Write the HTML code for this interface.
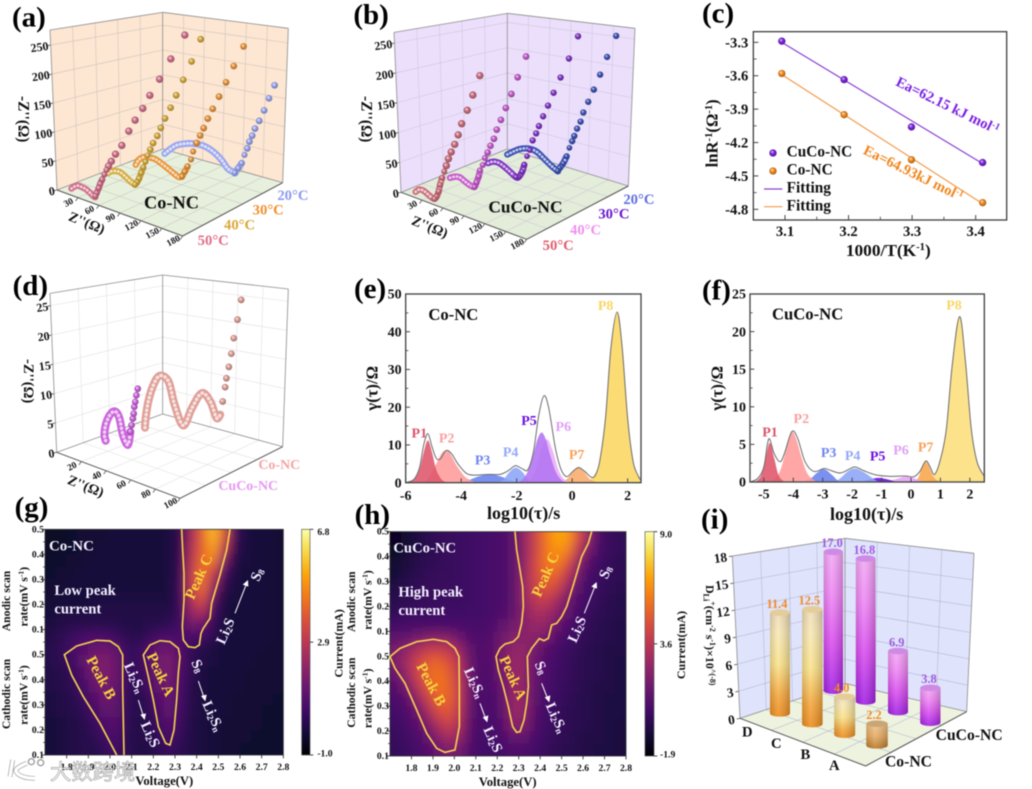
<!DOCTYPE html>
<html lang="en">
<head>
<meta charset="utf-8">
<title>Electrochemical analysis of Co-NC and CuCo-NC</title>
<style>
html,body{margin:0;padding:0;background:#fff;width:1032px;height:789px;overflow:hidden}
svg{display:block;filter:blur(.5px)}
text{font-family:"Liberation Serif","Noto Serif CJK SC",serif;font-weight:bold;fill:#111}
.wm{font-family:"Liberation Sans","Noto Sans CJK SC",sans-serif;fill:rgba(255,255,255,.82);stroke:rgba(120,120,120,.7);stroke-width:2}
.plab{font-size:87px;fill:#000}
.ann{fill:#f4f0ff}
.pk{fill:#f7d33c}
</style>
</head>
<body>
<svg id="figure" xmlns="http://www.w3.org/2000/svg" width="1032" height="789" viewBox="0 0 1032 789">
<defs id="defs"></defs>
<rect width="1032" height="789" fill="#fff"/>

<!-- (a) -->
<g id="panel-a" transform="translate(0,0) scale(.33333)">
  <g id="a-plot"></g>
  <text class="plab" x="36" y="80">(a)</text>
  <text transform="translate(56,288) rotate(90)" font-size="46">-Z''(Ω)</text>
  <text transform="translate(203,660) rotate(22)" font-size="42">Z''(Ω)</text>
  <text x="432" y="625" font-size="55">Co-NC</text>
  <text x="832" y="600" font-size="44" style="fill:#8d9af0">20°C</text>
  <text x="758" y="644" font-size="44" style="fill:#f0902e">30°C</text>
  <text x="672" y="688" font-size="44" style="fill:#dca63a">40°C</text>
  <text x="593" y="735" font-size="44" style="fill:#e0708a">50°C</text>
</g>

<!-- (b) -->
<g id="panel-b" transform="translate(345,0) scale(.33333)">
  <g id="b-plot"></g>
  <text class="plab" x="25" y="72">(b)</text>
  <text transform="translate(50,288) rotate(90)" font-size="46">-Z''(Ω)</text>
  <text transform="translate(197,672) rotate(22)" font-size="42">Z''(Ω)</text>
  <text x="430" y="637" font-size="52">CuCo-NC</text>
  <text x="835" y="612" font-size="44" style="fill:#6070e0">20°C</text>
  <text x="760" y="655" font-size="44" style="fill:#6a18d0">30°C</text>
  <text x="675" y="704" font-size="44" style="fill:#f090f0">40°C</text>
  <text x="593" y="750" font-size="44" style="fill:#e06070">50°C</text>
</g>

<!-- (c) -->
<g id="panel-c" transform="translate(690,0) scale(.33333)">
  <g id="c-plot"></g>
  <text class="plab" x="36" y="68">(c)</text>
  <text x="595" y="768" text-anchor="middle" font-size="52">1000/T(K<tspan dy="-18" font-size="32">-1</tspan><tspan dy="18">)</tspan></text>
  <text transform="translate(82,400) rotate(-90)" text-anchor="middle" font-size="50">lnR<tspan dy="-16" font-size="32">-1</tspan><tspan dy="16">(Ω</tspan><tspan dy="-16" font-size="32">-1</tspan><tspan dy="16">)</tspan></text>
  <text x="290" y="470" font-size="46">CuCo-NC</text>
  <text x="290" y="524" font-size="46">Co-NC</text>
  <text x="290" y="578" font-size="46">Fitting</text>
  <text x="290" y="632" font-size="46">Fitting</text>
  <text transform="translate(615,255) rotate(26)" font-size="44" style="fill:#7a22e0">Ea=62.15 kJ mol<tspan dy="-14" font-size="28">-1</tspan></text>
  <text transform="translate(517,460) rotate(26)" font-size="44" style="fill:#f0861c">Ea=64.93kJ mol<tspan dy="-14" font-size="28">-1</tspan></text>
</g>

<!-- (d) -->
<g id="panel-d" transform="translate(0,265) scale(.33333)">
  <g id="d-plot"></g>
  <text class="plab" x="38" y="90">(d)</text>
  <text transform="translate(72,282) rotate(90)" font-size="44">-Z''(Ω)</text>
  <text transform="translate(200,655) rotate(22)" font-size="42">Z''(Ω)</text>
  <text x="775" y="612" font-size="42" style="fill:#f5a5a5">Co-NC</text>
  <text x="655" y="675" font-size="42" style="fill:#e49bf0">CuCo-NC</text>
</g>

<!-- (e) -->
<g id="panel-e" transform="translate(345,270) scale(.33333)">
  <g id="e-plot"></g>
  <text class="plab" x="27" y="84">(e)</text>
  <text transform="translate(98,355) rotate(-90)" text-anchor="middle" font-size="50">γ(τ)/Ω</text>
  <text x="536" y="747" text-anchor="middle" font-size="54">log10(τ)/s</text>
  <text x="250" y="150" font-size="50">Co-NC</text>
</g>

<!-- (f) -->
<g id="panel-f" transform="translate(690,270) scale(.33333)">
  <g id="f-plot"></g>
  <text class="plab" x="36" y="88">(f)</text>
  <text transform="translate(98,355) rotate(-90)" text-anchor="middle" font-size="50">γ(τ)/Ω</text>
  <text x="530" y="750" text-anchor="middle" font-size="54">log10(τ)/s</text>
  <text x="246" y="148" font-size="50">CuCo-NC</text>
</g>

<!-- (g) -->
<g id="panel-g" transform="translate(0,500) scale(.33333)">
  <g id="g-plot"></g>
  <text class="plab" x="44" y="50">(g)</text>
  <g fill="none" stroke="#f2cf52" stroke-width="5">
    <polyline points="545,88 548,150 552,220 552,300 547,380 550,420 565,440 585,443 598,435 603,400 610,385 630,355 635,310 660,225 680,150 690,88"/>
    <polyline points="372,765 368,560 368,465 355,440 330,423 290,421 230,438 193,464 215,525 250,590 300,670 350,765"/>
    <polygon points="430,465 450,435 480,422 510,425 535,445 540,470 535,520 530,600 522,690 510,735 497,730 475,680 460,600 445,530"/>
  </g>
  <text x="147" y="152" font-size="45" style="fill:#f4f0ff">Co-NC</text>
  <text x="163" y="285" font-size="44" style="fill:#f4f0ff">Low peak</text>
  <text x="163" y="340" font-size="44" style="fill:#f4f0ff">current</text>
  <text transform="translate(600,232) rotate(-66)" text-anchor="middle" dominant-baseline="middle" font-size="46" style="fill:#f7d33c">Peak C</text>
  <text transform="translate(300,535) rotate(62)" text-anchor="middle" dominant-baseline="middle" font-size="46" style="fill:#f7d33c">Peak B</text>
  <text transform="translate(478,525) rotate(65)" text-anchor="middle" dominant-baseline="middle" font-size="46" style="fill:#f7d33c">Peak A</text>
  <text transform="translate(680,395) rotate(-66)" text-anchor="middle" dominant-baseline="middle" font-size="44" style="fill:#f4f0ff">Li<tspan dy="8" font-size="28">2</tspan><tspan dy="-8">S</tspan></text>
  <line x1="705" y1="340" x2="740" y2="250" stroke="#fff" stroke-width="3"/>
  <polygon points="744,240 728,254 745,260" fill="#fff"/>
  <text transform="translate(775,225) rotate(-66)" text-anchor="middle" dominant-baseline="middle" font-size="44" style="fill:#f4f0ff">S<tspan dy="8" font-size="28">8</tspan></text>
  <text transform="translate(590,500) rotate(66)" text-anchor="middle" dominant-baseline="middle" font-size="44" style="fill:#f4f0ff">S<tspan dy="8" font-size="28">8</tspan></text>
  <line x1="595" y1="543" x2="612" y2="592" stroke="#fff" stroke-width="3"/>
  <polygon points="616,604 603,588 620,584" fill="#fff"/>
  <text transform="translate(635,650) rotate(66)" text-anchor="middle" dominant-baseline="middle" font-size="44" style="fill:#f4f0ff">Li<tspan dy="8" font-size="28">2</tspan><tspan dy="-8">S</tspan><tspan dy="8" font-size="28">n</tspan></text>
  <text transform="translate(400,535) rotate(66)" text-anchor="middle" dominant-baseline="middle" font-size="44" style="fill:#f4f0ff">Li<tspan dy="8" font-size="28">2</tspan><tspan dy="-8">S</tspan><tspan dy="8" font-size="28">n</tspan></text>
  <line x1="415" y1="600" x2="430" y2="648" stroke="#fff" stroke-width="3"/>
  <polygon points="434,660 421,644 438,640" fill="#fff"/>
  <text transform="translate(447,705) rotate(66)" text-anchor="middle" dominant-baseline="middle" font-size="44" style="fill:#f4f0ff">Li<tspan dy="8" font-size="28">2</tspan><tspan dy="-8">S</tspan></text>
  <text x="493" y="855" text-anchor="middle" font-size="38">Voltage(V)</text>
  <text transform="translate(30,303) rotate(-90)" text-anchor="middle" font-size="35">Anodic scan</text>
  <text transform="translate(82,290) rotate(-90)" text-anchor="middle" font-size="35">rate(mV s<tspan dy="-12" font-size="23">-1</tspan><tspan dy="12">)</tspan></text>
  <text transform="translate(30,582) rotate(-90)" text-anchor="middle" font-size="35">Cathodic scan</text>
  <text transform="translate(82,585) rotate(-90)" text-anchor="middle" font-size="35">rate(mV s<tspan dy="-12" font-size="23">-1</tspan><tspan dy="12">)</tspan></text>
  <text transform="translate(1028,430) rotate(-90)" text-anchor="middle" font-size="36">Current(mA)</text>
  <text x="952" y="105" font-size="29">6.8</text>
  <text x="952" y="437" font-size="29">2.9</text>
  <text x="952" y="770" font-size="29">-1.0</text>
</g>

<!-- (h) -->
<g id="panel-h" transform="translate(340,500) scale(.33333)">
  <g id="h-plot"></g>
  <text class="plab" x="44" y="72">(h)</text>
  <g fill="none" stroke="#f2cf52" stroke-width="5">
    <polyline points="525,95 530,150 540,210 548,260 550,320 545,370 535,410 520,425 495,432 480,445 468,470 475,510 490,560 505,620 518,680 530,697 540,695 552,660 560,610 565,560 562,470 575,445 598,416 612,422 625,415 635,375 650,370 665,350 680,320 700,255 725,170 745,130 755,95"/>
    <polygon points="150,470 180,445 230,425 280,418 320,425 345,445 357,470 358,560 358,680 345,750 315,757 290,745 260,700 230,630 195,550 165,505"/>
  </g>
  <text x="160" y="158" font-size="44" style="fill:#f4f0ff">CuCo-NC</text>
  <text x="175" y="290" font-size="44" style="fill:#f4f0ff">High peak</text>
  <text x="175" y="345" font-size="44" style="fill:#f4f0ff">current</text>
  <text transform="translate(620,225) rotate(-66)" text-anchor="middle" dominant-baseline="middle" font-size="46" style="fill:#f7d33c">Peak C</text>
  <text transform="translate(270,555) rotate(62)" text-anchor="middle" dominant-baseline="middle" font-size="46" style="fill:#f7d33c">Peak B</text>
  <text transform="translate(515,535) rotate(66)" text-anchor="middle" dominant-baseline="middle" font-size="46" style="fill:#f7d33c">Peak A</text>
  <text transform="translate(715,390) rotate(-66)" text-anchor="middle" dominant-baseline="middle" font-size="44" style="fill:#f4f0ff">Li<tspan dy="8" font-size="28">2</tspan><tspan dy="-8">S</tspan></text>
  <line x1="733" y1="340" x2="766" y2="256" stroke="#fff" stroke-width="3"/>
  <polygon points="770,246 754,260 771,266" fill="#fff"/>
  <text transform="translate(800,218) rotate(-66)" text-anchor="middle" dominant-baseline="middle" font-size="44" style="fill:#f4f0ff">S<tspan dy="8" font-size="28">8</tspan></text>
  <text transform="translate(600,505) rotate(66)" text-anchor="middle" dominant-baseline="middle" font-size="44" style="fill:#f4f0ff">S<tspan dy="8" font-size="28">8</tspan></text>
  <line x1="605" y1="550" x2="623" y2="596" stroke="#fff" stroke-width="3"/>
  <polygon points="628,607 614,592 631,586" fill="#fff"/>
  <text transform="translate(645,655) rotate(66)" text-anchor="middle" dominant-baseline="middle" font-size="44" style="fill:#f4f0ff">Li<tspan dy="8" font-size="28">2</tspan><tspan dy="-8">S</tspan><tspan dy="8" font-size="28">n</tspan></text>
  <text transform="translate(400,550) rotate(66)" text-anchor="middle" dominant-baseline="middle" font-size="44" style="fill:#f4f0ff">Li<tspan dy="8" font-size="28">2</tspan><tspan dy="-8">S</tspan><tspan dy="8" font-size="28">n</tspan></text>
  <line x1="420" y1="610" x2="437" y2="656" stroke="#fff" stroke-width="3"/>
  <polygon points="442,667 428,652 445,646" fill="#fff"/>
  <text transform="translate(455,720) rotate(66)" text-anchor="middle" dominant-baseline="middle" font-size="44" style="fill:#f4f0ff">Li<tspan dy="8" font-size="28">2</tspan><tspan dy="-8">S</tspan></text>
  <text x="503" y="858" text-anchor="middle" font-size="38">Voltage(V)</text>
  <text transform="translate(45,305) rotate(-90)" text-anchor="middle" font-size="35">Anodic scan</text>
  <text transform="translate(95,300) rotate(-90)" text-anchor="middle" font-size="35">rate(mV s<tspan dy="-12" font-size="23">-1</tspan><tspan dy="12">)</tspan></text>
  <text transform="translate(45,578) rotate(-90)" text-anchor="middle" font-size="35">Cathodic scan</text>
  <text transform="translate(95,595) rotate(-90)" text-anchor="middle" font-size="35">rate(mV s<tspan dy="-12" font-size="23">-1</tspan><tspan dy="12">)</tspan></text>
  <text transform="translate(1035,435) rotate(-90)" text-anchor="middle" font-size="36">Current(mA)</text>
  <text x="960" y="112" font-size="29">9.0</text>
  <text x="960" y="442" font-size="29">3.6</text>
  <text x="960" y="773" font-size="29">-1.9</text>
</g>

<!-- (i) -->
<g id="panel-i" transform="translate(690,510) scale(.33333)">
  <g id="i-plot"></g>
  <text class="plab" x="33" y="55">(i)</text>
  <text transform="translate(48,225) rotate(90)" font-size="36">D<tspan dy="8" font-size="24">Li</tspan><tspan dy="-20" font-size="24">+</tspan><tspan dy="12">(cm</tspan><tspan dy="-12" font-size="24">-2</tspan><tspan dy="12"> s</tspan><tspan dy="-12" font-size="24">-1</tspan><tspan dy="12">)×10</tspan><tspan dy="-12" font-size="24">^(-8)</tspan></text>
  <text x="737" y="690" font-size="47">CuCo-NC</text>
  <text x="585" y="770" font-size="47">Co-NC</text>
</g>

<!-- watermark -->
<g id="watermark" transform="translate(0,500) scale(.33333)">
  <path d="M38,780 L30,830 M80,790 Q42,805 48,815 Q60,835 105,835" fill="none" stroke="#9a9a9a" stroke-width="14"/>
  <path d="M38,780 L30,830 M80,790 Q42,805 48,815 Q60,835 105,835" fill="none" stroke="#fff" stroke-width="10"/>
  <circle cx="94" cy="785" r="9" fill="#fff" stroke="#9a9a9a" stroke-width="4"/>
  <circle cx="122" cy="788" r="9" fill="#fff" stroke="#9a9a9a" stroke-width="4"/>
  <text class="wm" x="150" y="838" font-size="64" style="font-family:'Liberation Sans','Noto Sans CJK SC',sans-serif;fill:rgba(255,255,255,.82);font-weight:normal">大数跨境</text>
</g>
</svg>

<script>
/* ---------- (a) impedance data ---------- */
const aDepths = [0.07, 0.418, 0.677, 0.95];
const aTemps = ['50C', '40C', '30C', '20C'];
const a50ArcRe = [10,14,19,25,31,37,41,44];
const a50ArcIm = [2,7,11,11,10,6,3,2];
const a50TailRe = [172,152,136,122,112,101,92,82,73,67,63,60,57,54,51,49,46,44];
const a50TailIm = [338,288,246,212,185,160,137,108,89,74,64,56,47,37,28,20,10,4];
const a40ArcRe = [10,13,20,27,34,41,48];
const a40ArcIm = [4,8,12,13,9,4,1];
const a40TailRe = [142,129,117,107,99,91,85,80,74,70,66,63,60,57,54,51,48];
const a40TailIm = [293,249,212,181,156,134,115,99,84,71,59,47,36,25,14,6,1];
const a30ArcRe = [10,14,21,28,38,50,61,71,76];
const a30ArcIm = [0,10,18,21,22,17,11,6,9];
const a30TailRe = [164,150,139,129,120,113,107,102,97,92,89,84,80,76];
const a30TailIm = [272,232,199,170,145,125,106,91,76,59,44,30,19,9];
const a20ArcRe = [10,17,27,39,50,65,79,91,100,110];
const a20ArcIm = [0,10,22,30,35,38,34,25,14,11];
const a20TailRe = [167,159,152,145,139,135,131,128,124,120,115,110];
const a20TailIm = [187,161,137,116,100,86,74,61,48,32,21,11];

/* ---------- (b) impedance data ---------- */
const bDepths = [0.072, 0.395, 0.70, 0.934];
const b50ArcRe = [10,15,21,27,32,37];
const b50ArcIm = [0,6,7,4,1,0];
const b50TailRe = [102,92,84,76,71,66,61,57,54,51,48,45,43,40,37];
const b50TailIm = [235,198,169,143,122,104,89,76,63,52,40,27,15,5,0];
const b40ArcRe = [10,17,24,32,39,45];
const b40ArcIm = [0,5,7,3,0,0];
const b40TailRe = [119,107,98,90,83,77,73,68,64,60,57,53,51,48,45];
const b40TailIm = [251,211,179,152,129,110,93,79,66,55,42,31,20,9,0];
const b30ArcRe = [18,26,35,47,58];
const b30ArcIm = [6,12,13,7,0];
const b30TailRe = [147,134,122,112,104,97,91,87,82,78,74,70,67,62,58];
const b30TailIm = [275,232,195,165,140,119,100,86,72,54,42,26,13,2,0];
const b20ArcRe = [10,19,28,40,52,64,74,82];
const b20ArcIm = [0,9,17,23,23,15,8,4];
const b20TailRe = [166,153,143,134,126,119,115,110,106,103,99,95,90,85,82];
const b20TailIm = [267,226,192,163,139,118,101,87,73,63,50,34,20,10,4];

/* ---------- (c) Arrhenius data ---------- */
const cInverseT = [3.095, 3.193, 3.299, 3.411];
const cCuCo = [-3.29, -3.635, -4.06, -4.38];
const cCo = [-3.58, -3.95, -4.355, -4.74];
const cFitX = [3.095, 3.411];
const cFitCuCo = [-3.30, -4.39];
const cFitCo = [-3.59, -4.75];
const cXTicks = [3.1, 3.2, 3.3, 3.4];
const cYTicks = [-3.3, -3.6, -3.9, -4.2, -4.5, -4.8];

/* ---------- (d) impedance data ---------- */
const dDepths = [0.346, 0.717];
const dCuArcRe = [10,9,10,13.5,17.6,21,24,28,30];
const dCuArcIm = [0.5,1.4,3.2,5.2,6.1,5.3,2.6,1.2,3.6];
const dCuTailRe = [30,31,32,32.7,33.2,34,34.9,36];
const dCuTailIm = [3.6,4.8,6,6.9,8.1,9,10.2,11.4];
const dCoArcRe = [10,10.5,12.7,16.8,22,29,34,41,48,56,63,68,71];
const dCoArcIm = [0.3,1.9,5,8.1,10.1,9.7,6.1,3.1,6.6,9.8,8.9,6.5,7.3];
const dCoTailRe = [73,75,76,78,80,82,85,88];
const dCoTailIm = [9.7,12.3,13.9,16,18.4,21.2,24.6,28.2];

/* ---------- (e) DRT peaks ---------- */
const eP1X = [-5.9,-5.7,-5.5,-5.35,-5.2,-5.05,-4.9,-4.7,-4.5];
const eP1Y = [0.1,0.8,3.5,8,11.2,8,3.5,0.8,0];
const eP2X = [-5.3,-5.1,-4.9,-4.7,-4.55,-4.4,-4.2,-4,-3.8,-3.5];
const eP2Y = [0.2,2,5,7.8,8.5,7.8,5,2.8,1.2,0.1];
const eP3X = [-4.3,-3.8,-3.4,-3,-2.6,-2.2,-1.9];
const eP3Y = [0,0.5,1.6,2.2,1.7,0.6,0];
const eP4X = [-2.8,-2.5,-2.3,-2.05,-1.8,-1.6,-1.3];
const eP4Y = [0,0.6,2.5,4,2.9,1,0];
const eP5X = [-2,-1.8,-1.6,-1.4,-1.25,-1.1,-0.95,-0.8,-0.6,-0.4,-0.2];
const eP5Y = [0,0.8,3,7.5,11.5,13.3,11.5,7.5,3,0.8,0];
const eP6X = [-1.7,-1.5,-1.3,-1.1,-0.9,-0.7,-0.5,-0.3,-0.1];
const eP6Y = [0,0.8,3.5,9,11.5,8.5,3.5,1,0];
const eP7X = [-0.5,-0.2,0,0.22,0.45,0.65,0.95];
const eP7Y = [0,0.9,2.6,4,2.7,0.9,0];
const eP8X = [0.5,0.8,1,1.2,1.4,1.62,1.8,2,2.2,2.4,2.48];
const eP8Y = [0,2,6,17,36,45.2,36,17,5.5,1.5,0.8];
const eEnvX = [-6,-5.7,-5.5,-5.35,-5.2,-5.05,-4.9,-4.75,-4.55,-4.35,-4.1,-3.8,-3.5,-3,-2.6,-2.3,-2.05,-1.8,-1.6,-1.4,-1.2,-1.02,-0.85,-0.6,-0.4,-0.2,0,0.22,0.45,0.7,0.85];
const eEnvY = [0,0.9,4,10,13,9.5,6.5,6.3,8.5,7.7,4.8,2.4,2,2.2,2.2,3.2,4.5,3.7,3.4,8,18,23,20,9,3.5,1.6,2.8,4,3,1.4,2.2];
const eXTicks = [-6,-4,-2,0,2];
const eYTicks = [0,10,20,30,40,50];

/* ---------- (f) DRT peaks ---------- */
const fP1X = [-5.3,-5.1,-4.95,-4.8,-4.65,-4.5,-4.3];
const fP1Y = [0,0.8,3,5.2,3.2,0.9,0];
const fP2X = [-4.9,-4.6,-4.4,-4.2,-4.05,-3.9,-3.7,-3.5,-3.2];
const fP2Y = [0,0.5,2,5,6.7,5.7,3,1,0];
const fP3X = [-3.7,-3.4,-3.2,-2.95,-2.7,-2.45];
const fP3Y = [0,0.5,1.2,1.7,1,0];
const fP4X = [-2.6,-2.4,-2.15,-1.9,-1.6,-1.3,-1.1];
const fP4Y = [0,0.5,1.4,1.8,1.3,0.5,0];
const fP5X = [-1.7,-1.4,-1.1,-0.8,-0.5];
const fP5Y = [0,0.35,0.55,0.35,0];
const fP6X = [-0.9,-0.5,-0.2,0.1,0.4];
const fP6Y = [0,0.4,0.7,0.5,0];
const fP7X = [0.1,0.25,0.38,0.5,0.62,0.78,1];
const fP7Y = [0,0.6,2,2.7,2,0.6,0];
const fP8X = [0.5,0.8,1,1.2,1.4,1.65,1.85,2.05,2.25,2.5];
const fP8Y = [0,1,3,7,15.5,22,16,7,2.6,0.7];
const fEnvX = [-5.47,-5.2,-5,-4.88,-4.8,-4.65,-4.45,-4.3,-4.05,-3.85,-3.6,-3.3,-2.95,-2.7,-2.4,-2.1,-1.9,-1.6,-1.2,-0.7,-0.2,0.1,0.3,0.5,0.65,0.8,1];
const fEnvY = [0,0.5,2,5,5.7,3.8,2.7,3.8,6.7,5.8,2.7,1.4,1.8,1.5,1.2,1.7,2,1.5,0.95,0.75,0.8,0.7,1.4,2.8,2,1,3];
const fXTicks = [-5,-4,-3,-2,-1,0,1,2];
const fYTicks = [0,5,10,15,20,25];

/* ---------- (g)(h) heatmap data ---------- */
const heatVoltages = [1.725,1.775,1.825,1.875,1.925,1.975,2.025,2.075,2.125,2.175,2.225,2.275,2.325,2.375,2.425,2.475,2.525,2.575,2.625,2.675,2.725,2.775];
const heatRowPos = [0.875,0.825,0.775,0.725,0.675,0.625,0.575,0.525,0.475,0.425,0.375,0.325,0.275,0.225,0.175,0.125,0.075,0.025];
const heatRateTickPos = [0.9,0.8,0.7,0.6,0.5,0.4,0.3,0.2,0.1,0];
const heatRateTickLabels = ['0.5','0.4','0.3','0.2','0.1','0.5','0.4','0.3','0.2','0.1'];
const heatVoltTicks = [1.8,1.9,2.0,2.1,2.2,2.3,2.4,2.5,2.6,2.7,2.8];
const gCurrent = [
[-.5,-.5,-.4,-.3,-.3,-.3,-.2,-.2,-.2,-.2,-.2,-.1,.2,2.4,4,5.6,3.8,.4,-.1,-.2,-.2,-.3],
[-.5,-.4,-.4,-.3,-.3,-.2,-.2,-.2,-.2,-.2,-.2,-.1,.2,2.6,4,5.2,3,.2,-.1,-.2,-.2,-.3],
[-.4,-.4,-.3,-.3,-.2,-.2,-.2,-.2,-.2,-.2,-.2,-.1,.3,2.8,4.2,4.6,1.8,0,-.1,-.2,-.2,-.3],
[-.4,-.3,-.3,-.2,-.2,-.2,-.2,-.2,-.2,-.2,-.2,-.1,.3,3,4.4,3.2,.7,-.1,-.2,-.2,-.2,-.3],
[-.3,-.3,-.2,-.2,-.2,-.2,-.2,-.2,-.2,-.2,-.2,-.1,.4,3,4.4,2.2,.2,-.1,-.2,-.2,-.2,-.3],
[-.3,-.2,-.2,-.2,-.1,-.1,-.1,-.1,-.1,-.1,-.1,-.1,.4,2.7,3.8,1.2,-.1,-.1,-.2,-.2,-.2,-.3],
[-.2,-.1,-.1,-.1,0,0,0,0,0,0,0,0,.4,2.2,2.8,.6,-.1,-.2,-.2,-.2,-.2,-.3],
[-.1,0,.1,.1,.1,.1,.1,0,0,.1,.1,.2,.5,1.6,1.4,.3,-.1,-.2,-.2,-.2,-.2,-.3],
[0,.2,.4,.6,.7,.7,.4,.2,.1,.3,.6,.7,.6,.8,.6,.2,-.1,-.2,-.2,-.2,-.2,-.3],
[.1,.2,.6,1,1.3,1.4,1.1,.4,.3,.8,1.3,1.4,.9,.3,.1,-.1,-.2,-.2,-.2,-.2,-.3,-.3],
[.1,.2,.5,1.1,1.6,1.7,1.4,.4,.3,.9,1.5,1.6,.9,.2,0,-.1,-.2,-.2,-.2,-.3,-.3,-.3],
[0,.1,.3,.9,1.5,1.7,1.4,.4,.2,.7,1.5,1.6,.8,.2,-.1,-.2,-.2,-.2,-.3,-.3,-.3,-.3],
[0,.1,.2,.6,1.2,1.6,1.3,.4,.2,.5,1.3,1.5,.7,.1,-.1,-.2,-.2,-.2,-.3,-.3,-.3,-.3],
[-.1,0,.1,.4,.9,1.4,1.2,.3,.1,.3,1,1.3,.6,.1,-.1,-.2,-.2,-.3,-.3,-.3,-.3,-.4],
[-.1,0,.1,.2,.6,1.1,1.1,.3,.1,.2,.8,1.2,.5,.1,-.1,-.2,-.2,-.3,-.3,-.3,-.4,-.4],
[-.2,-.1,0,.1,.4,.8,1,.3,0,.1,.5,1,.4,0,-.1,-.2,-.3,-.3,-.3,-.3,-.4,-.4],
[-.2,-.1,0,.1,.2,.5,.8,.2,0,.1,.3,.8,.3,0,-.1,-.2,-.3,-.3,-.3,-.4,-.4,-.4],
[-.2,-.1,0,.1,.1,.3,.6,.2,0,0,.2,.4,.2,0,-.1,-.2,-.3,-.3,-.4,-.4,-.4,-.4]
];
const hCurrent = [
[-1.3,-1,-.6,-.3,-.1,0,.1,.2,.3,.4,.6,1,2.4,4,5.6,6.8,6.6,4.6,2.4,.5,0,-.1],
[-1.2,-.9,-.5,-.3,-.1,0,.1,.2,.3,.4,.6,1,2.4,4,5.6,6.4,6,3.6,1.6,.4,0,-.1],
[-1,-.7,-.4,-.2,-.1,0,.1,.2,.3,.4,.6,1,2.4,4.2,5.6,6,4.8,2.4,.9,.2,-.1,-.2],
[-.8,-.5,-.3,-.1,0,0,.1,.2,.3,.4,.6,1,2.5,4.2,5.2,5.2,3.6,1.6,.5,.1,-.1,-.2],
[-.5,-.3,-.1,0,0,.1,.1,.2,.3,.4,.6,1,2.5,4,4.8,4.2,2.6,1,.3,0,-.2,-.3],
[-.3,-.2,-.1,0,0,.1,.1,.2,.3,.4,.6,1,2.4,3.6,3.8,3,1.6,.6,.2,-.1,-.3,-.4],
[-.1,0,.1,.1,.2,.2,.2,.3,.3,.4,.7,1.1,2.2,3,3,2.2,1.2,.4,0,-.2,-.3,-.4],
[.3,.4,.5,.5,.5,.5,.5,.4,.4,.6,1.1,1.6,2.2,2.6,2.4,1.5,.6,.2,-.1,-.3,-.4,-.5],
[1,1.2,1.6,2,2.2,2,1.4,.8,.6,.8,1.6,2,2.2,2.2,1.6,.8,.3,0,-.2,-.3,-.4,-.5],
[1.8,2.4,3.2,3.8,4,3.6,2.6,1,.7,.9,1.8,2.4,2.4,1.6,.9,.4,.1,-.1,-.3,-.4,-.5,-.5],
[1.8,2.8,4,5,5.2,4.6,3.2,1.2,.7,.8,1.8,2.6,2.4,1.3,.7,.3,0,-.2,-.3,-.4,-.5,-.6],
[1.2,2.4,4,5.2,5.6,5,3.4,1.2,.6,.7,1.6,2.6,2.4,1.2,.6,.2,0,-.2,-.3,-.4,-.5,-.6],
[.8,1.6,3.2,4.8,5.6,5.2,3.6,1.2,.6,.6,1.4,2.6,2.4,1.1,.5,.2,-.1,-.2,-.4,-.5,-.5,-.6],
[.5,.9,2.2,3.8,5.2,5.2,3.6,1.1,.5,.5,1.2,2.6,2.4,1,.4,.1,-.1,-.3,-.4,-.5,-.6,-.6],
[.3,.6,1.4,2.8,4.4,4.8,3.4,1,.5,.5,1,2.6,2.4,.9,.3,0,-.2,-.3,-.4,-.5,-.6,-.6],
[.1,.4,.9,1.8,3.2,4,3,.9,.4,.4,.8,2.2,2,.7,.2,0,-.2,-.3,-.4,-.5,-.6,-.7],
[0,.2,.6,1.1,2.2,3,2.4,.8,.3,.3,.6,1.2,1.1,.5,.1,-.1,-.2,-.4,-.5,-.5,-.6,-.7],
[-.1,.1,.4,.7,1.4,1.8,1.6,.6,.3,.2,.4,.7,.6,.3,0,-.2,-.3,-.4,-.5,-.6,-.6,-.7]
];
const infernoStops = ['#000004','#160b39','#420a68','#6a176e','#932667','#bc3754','#dd513a','#f37819','#fca50a','#f6d746','#fcffa4'];

/* ---------- (i) diffusion data ---------- */
const iCategories = ['D','C','B','A'];
const iCoNC = [11.4, 12.5, 4.0, 2.2];
const iCuCoNC = [17.0, 16.8, 6.9, 3.8];
const iYTicks = [0,3,6,9,12,15,18];

/* ---------- helpers ---------- */
const NS = 'http://www.w3.org/2000/svg';
const defs = document.getElementById('defs');
function make(tag, attrs, parent, name) {
  const el = document.createElementNS(NS, tag);
  for (const k in attrs) el.setAttribute(k, attrs[k]);
  
  
  if (parent) parent.appendChild(el);
  return el;
}
function label(parent, str, x, y, size, name, extra) {
  const t = make('text', Object.assign({x: x, y: y, 'font-size': size}, extra || {}), parent, name);
  t.textContent = str;
  return t;
}
function lerp(a, b, t) { return [a[0] + (b[0] - a[0]) * t, a[1] + (b[1] - a[1]) * t]; }
function hexToRgb(h) { return [parseInt(h.slice(1,3),16), parseInt(h.slice(3,5),16), parseInt(h.slice(5,7),16)]; }
function mix(h1, h2, t) {
  const a = hexToRgb(h1), b = hexToRgb(h2);
  return 'rgb(' + a.map((v, i) => Math.round(v + (b[i] - v) * t)).join(',') + ')';
}
function smooth(pts) {
  let d = 'M' + pts[0][0].toFixed(1) + ',' + pts[0][1].toFixed(1);
  for (let i = 0; i < pts.length - 1; i++) {
    const p0 = pts[Math.max(i - 1, 0)], p1 = pts[i], p2 = pts[i + 1], p3 = pts[Math.min(i + 2, pts.length - 1)];
    const c1 = [p1[0] + (p2[0] - p0[0]) / 6, p1[1] + (p2[1] - p0[1]) / 6];
    const c2 = [p2[0] - (p3[0] - p1[0]) / 6, p2[1] - (p3[1] - p1[1]) / 6];
    d += 'C' + c1[0].toFixed(1) + ',' + c1[1].toFixed(1) + ' ' + c2[0].toFixed(1) + ',' + c2[1].toFixed(1) + ' ' + p2[0].toFixed(1) + ',' + p2[1].toFixed(1);
  }
  return d;
}
let gradCount = 0;
function sphereGrad(color) {
  const id = 'sph' + (gradCount++);
  const g = make('radialGradient', {id: id, cx: '.5', cy: '.5', r: '.55', fx: '.35', fy: '.3'}, defs, 'sphere-gradient');
  make('stop', {offset: '0', 'stop-color': mix(color, '#ffffff', .85)}, g, 'gradient-stop');
  make('stop', {offset: '.45', 'stop-color': color}, g, 'gradient-stop');
  make('stop', {offset: '1', 'stop-color': mix(color, '#000000', .35)}, g, 'gradient-stop');
  return 'url(#' + id + ')';
}
function path2(a, b, parent, stroke, width, name) {
  return make('line', {x1: a[0], y1: a[1], x2: b[0], y2: b[1], stroke: stroke, 'stroke-width': width}, parent, name);
}

/* ---------- 3-D box ---------- */
function drawBox(parent, b, o) {
  const wallL = [b.lb, b.lt, b.bt, b.bb], wallR = [b.bb, b.bt, b.rt, b.rb], floor = [b.lb, b.bb, b.rb, b.fb];
  make('polygon', {points: wallL.join(' '), fill: o.wall}, parent, o.id + '-left-wall');
  make('polygon', {points: wallR.join(' '), fill: o.wall}, parent, o.id + '-right-wall');
  make('polygon', {points: floor.join(' '), fill: o.floor}, parent, o.id + '-floor');
  const grid = o.grid || '#c9c2bb', gw = 1.6;
  o.zTicks.forEach(z => {
    const f = z / o.zTop;
    const p1 = lerp(b.lb, b.lt, f), p2 = lerp(b.bb, b.bt, f), p3 = lerp(b.rb, b.rt, f);
    if (z > 0) {
      path2(p1, p2, parent, grid, gw, o.id + '-z-grid-left');
      path2(p2, p3, parent, grid, gw, o.id + '-z-grid-right');
    }
    path2(p1, [p1[0] - 10, p1[1] + 2], parent, '#555', 2.5, o.id + '-z-tick');
    const lab = label(parent, String(z), p1[0] + o.zDx, p1[1] + o.zDy, o.zFont, o.id + '-z-tick-label', {'text-anchor': 'end'});
    lab.setAttribute('transform', 'rotate(-8 ' + (p1[0] + o.zDx) + ' ' + (p1[1] + o.zDy) + ')');
  });
  o.xFracs.forEach(f => {
    const a = lerp(b.bb, b.rb, f), c = lerp(b.bt, b.rt, f), d = lerp(b.lb, b.fb, f);
    path2(a, c, parent, grid, gw, o.id + '-x-grid-wall');
    path2(a, d, parent, grid, gw, o.id + '-x-grid-floor');
  });
  o.dFracs.forEach(f => {
    const a = lerp(b.lb, b.bb, f), c = lerp(b.lt, b.bt, f), d = lerp(b.fb, b.rb, f);
    path2(a, c, parent, grid, gw, o.id + '-depth-grid-wall');
    path2(a, d, parent, grid, gw, o.id + '-depth-grid-floor');
  });
  [[b.lb,b.lt],[b.lt,b.bt],[b.bt,b.rt],[b.rt,b.rb],[b.bt,b.bb],[b.bb,b.lb],[b.bb,b.rb]].forEach(e => {
    path2(e[0], e[1], parent, '#8c8c8c', 2.4, o.id + '-box-edge');
  });
  path2(b.lb, b.fb, parent, '#555', 3, o.id + '-x-axis');
  path2(b.fb, b.rb, parent, '#555', 3, o.id + '-depth-axis');
  (o.xTicks || []).forEach((v, i) => {
    const p = lerp(b.lb, b.fb, v / o.xMax);
    path2(p, [p[0] - 7, p[1] + 10], parent, '#555', 2.5, o.id + '-x-tick');
    const x = p[0] - 24, y = p[1] + 22;
    const lab = label(parent, String(v), x, y, o.xFont, o.id + '-x-tick-label', {'text-anchor': 'middle'});
    lab.setAttribute('transform', 'rotate(-28 ' + x + ' ' + y + ')');
  });
}
function projector(o, ex, ed, ez) {
  return (re, im, d) => [o[0] + re * ex[0] + d * ed[0], o[1] + re * ex[1] + d * ed[1] - im * ez];
}
function drawSeries(parent, proj, depth, arcRe, arcIm, tailRe, tailIm, color, name, rBig, rSmall, thr, tubeW) {
  const arc = arcRe.map((r, i) => proj(r, arcIm[i], depth));
  for (let i = tailRe.length - 1; i >= 0; i--) {
    if (tailIm[i] < thr * .7 && tailIm[i] > 0) arc.push(proj(tailRe[i], tailIm[i], depth));
  }
  const fill = sphereGrad(color);
  const tube = make('path', {d: smooth(arc), fill: 'none', stroke: color, 'stroke-width': tubeW, 'stroke-linecap': 'round'}, parent, name + '-arc');
  tube.setAttribute('data-series', name);
  make('path', {d: smooth(arc), fill: 'none', stroke: mix(color, '#ffffff', .7), 'stroke-width': tubeW * .42, 'stroke-linecap': 'round', 'stroke-dasharray': '1 ' + (tubeW * .5)}, parent, name + '-arc-highlight');
  tailRe.forEach((r, i) => {
    const p = proj(r, tailIm[i], depth);
    make('circle', {cx: p[0], cy: p[1], r: tailIm[i] > thr ? rBig : rSmall, fill: fill}, parent, name + '-point');
  });
}

/* ---------- (a) ---------- */
(function () {
  const g = document.getElementById('a-plot');
  const box = {lb:[171,570], lt:[150,90], bb:[488,447], bt:[488,37], rb:[848,548], rt:[865,85], fb:[548,708]};
  drawBox(g, box, {id:'a', wall:'#fde6d2', floor:'#e7f0dd', zTicks:[0,50,100,150,200,250], zTop:276, zDx:-5, zDy:14, zFont:36,
    xTicks:[30,60,90,120,150,180], xMax:180, xFont:28, xFracs:[1/6,2/6,3/6,4/6,5/6], dFracs:[.2,.4,.6,.8]});
  const proj = projector(box.lb, [2.1,.767], [318,-123], 1.74);
  drawSeries(g, proj, aDepths[3], a20ArcRe, a20ArcIm, a20TailRe, a20TailIm, '#9aa6ee', 'a-series-20c', 10, 9, 60, 20);
  drawSeries(g, proj, aDepths[2], a30ArcRe, a30ArcIm, a30TailRe, a30TailIm, '#e8963c', 'a-series-30c', 10, 9, 60, 19);
  drawSeries(g, proj, aDepths[1], a40ArcRe, a40ArcIm, a40TailRe, a40TailIm, '#d3ab3e', 'a-series-40c', 10, 9, 60, 19);
  drawSeries(g, proj, aDepths[0], a50ArcRe, a50ArcIm, a50TailRe, a50TailIm, '#d0708a', 'a-series-50c', 11, 9, 60, 19);
})();

/* ---------- (b) ---------- */
(function () {
  const g = document.getElementById('b-plot');
  const box = {lb:[168,577], lt:[147,97], bb:[487,447], bt:[487,40], rb:[850,558], rt:[870,85], fb:[545,718]};
  drawBox(g, box, {id:'b', wall:'#ebdffb', floor:'#e3edd9', grid:'#cfc6dc', zTicks:[0,50,100,150,200,250], zTop:268, zDx:-5, zDy:14, zFont:36,
    xTicks:[30,60,90,120,150,180], xMax:180, xFont:28, xFracs:[1/6,2/6,3/6,4/6,5/6], dFracs:[.2,.4,.6,.8]});
  const proj = projector(box.lb, [2.094,.783], [319,-130], 1.79);
  drawSeries(g, proj, bDepths[3], b20ArcRe, b20ArcIm, b20TailRe, b20TailIm, '#3d52b4', 'b-series-20c', 9.5, 8.5, 60, 19);
  drawSeries(g, proj, bDepths[2], b30ArcRe, b30ArcIm, b30TailRe, b30TailIm, '#7f35c4', 'b-series-30c', 9.5, 8.5, 60, 19);
  drawSeries(g, proj, bDepths[1], b40ArcRe, b40ArcIm, b40TailRe, b40TailIm, '#c55bcb', 'b-series-40c', 10, 9, 60, 19);
  drawSeries(g, proj, bDepths[0], b50ArcRe, b50ArcIm, b50TailRe, b50TailIm, '#cb6e7c', 'b-series-50c', 11, 9, 60, 19);
})();

/* ---------- (c) ---------- */
(function () {
  const g = document.getElementById('c-plot');
  const x = v => 285 + (v - 3.1) * 1906.7;
  const y = v => 127 + (-3.3 - v) * 334;
  make('rect', {x:190, y:95, width:760, height:565, fill:'#fff', stroke:'#444', 'stroke-width':4}, g, 'c-plot-frame');
  cXTicks.forEach((v, i) => {
    path2([x(v),660],[x(v),645], g, '#444', 3, 'c-x-tick');
    label(g, v.toFixed(1), x(v), 708, 44, 'c-x-tick-label', {'text-anchor':'middle'});
    if (i < cXTicks.length - 1) path2([x(v+.05),660],[x(v+.05),650], g, '#444', 2.5, 'c-x-minor-tick');
  });
  cYTicks.forEach((v, i) => {
    path2([190,y(v)],[205,y(v)], g, '#444', 3, 'c-y-tick');
    label(g, v.toFixed(1), 175, y(v)+15, 44, 'c-y-tick-label', {'text-anchor':'end'});
    if (i < cYTicks.length - 1) path2([190,y(v-.15)],[200,y(v-.15)], g, '#444', 2.5, 'c-y-minor-tick');
  });
  make('line', {x1:x(cFitX[0]), y1:y(cFitCuCo[0]), x2:x(cFitX[1]), y2:y(cFitCuCo[1]), stroke:'#8a3fd6', 'stroke-width':3.5}, g, 'c-fit-cuco');
  make('line', {x1:x(cFitX[0]), y1:y(cFitCo[0]), x2:x(cFitX[1]), y2:y(cFitCo[1]), stroke:'#f29a4a', 'stroke-width':3.5}, g, 'c-fit-co');
  const purple = sphereGrad('#7b22e0'), orange = sphereGrad('#f28a1e');
  cInverseT.forEach((v, i) => {
    make('circle', {cx:x(v), cy:y(cCuCo[i]), r:11, fill:purple}, g, 'c-point-cuco');
    make('circle', {cx:x(v), cy:y(cCo[i]), r:11, fill:orange}, g, 'c-point-co');
  });
  make('circle', {cx:249, cy:459, r:11, fill:purple}, g, 'c-legend-marker-cuco');
  make('circle', {cx:249, cy:513, r:11, fill:orange}, g, 'c-legend-marker-co');
  make('line', {x1:222, y1:567, x2:277, y2:567, stroke:'#8a3fd6', 'stroke-width':3.5}, g, 'c-legend-line-cuco');
  make('line', {x1:222, y1:620, x2:277, y2:620, stroke:'#f29a4a', 'stroke-width':3.5}, g, 'c-legend-line-co');
})();

/* ---------- (d) ---------- */
(function () {
  const g = document.getElementById('d-plot');
  const box = {lb:[170,562], lt:[150,85], bb:[488,447], bt:[488,30], rb:[848,545], rt:[865,72], fb:[540,700]};
  drawBox(g, box, {id:'d', wall:'#ffffff', floor:'#ffffff', grid:'#dedede', zTicks:[0,5,10,15,20,25], zTop:27.1, zDx:-5, zDy:14, zFont:36,
    xTicks:[20,40,60,80,100], xMax:100, xFont:28, xFracs:[.2,.4,.6,.8], dFracs:[.25,.5,.75]});
  const proj = projector(box.lb, [3.7,1.38], [318,-115], 17.6);
  drawSeries(g, proj, dDepths[1], dCoArcRe, dCoArcIm, dCoTailRe, dCoTailIm, '#e0a098', 'd-series-co', 10, 10, 0, 24);
  drawSeries(g, proj, dDepths[0], dCuArcRe, dCuArcIm, dCuTailRe, dCuTailIm, '#cc66dd', 'd-series-cuco', 10, 10, 0, 24);
})();

/* ---------- (e)(f) DRT ---------- */
function drawDRT(id, g, frame, x, y, xTicks, yTicks, yMinorStep, peaks, env, xMaxData, labY) {
  const clipId = id + '-clip';
  const cp = make('clipPath', {id: clipId}, defs, id + '-clip-path');
  make('rect', {x: frame[0], y: frame[1], width: frame[2] - frame[0], height: frame[3] - frame[1]}, cp, id + '-clip-rect');
  const body = make('g', {'clip-path': 'url(#' + clipId + ')'}, g, id + '-peaks');
  peaks.forEach(pk => {
    const pts = pk.xs.map((v, i) => [x(v), y(pk.ys[i])]);
    const d = smooth(pts) + 'L' + pts[pts.length-1][0] + ',' + y(0) + 'L' + pts[0][0] + ',' + y(0) + 'Z';
    make('path', {d: d, fill: pk.fill, 'fill-opacity': pk.op || .9}, body, id + '-peak-' + pk.name);
  });
  make('path', {d: smooth(env), fill: 'none', stroke: '#6b6b6b', 'stroke-width': 3}, body, id + '-envelope');
  make('rect', {x: frame[0], y: frame[1], width: frame[2]-frame[0], height: frame[3]-frame[1], fill: 'none', stroke: '#444', 'stroke-width': 4}, g, id + '-plot-frame');
  xTicks.forEach(v => {
    path2([x(v), frame[3]], [x(v), frame[3] - 13], g, '#444', 3, id + '-x-tick');
    label(g, String(v), x(v), labY, 42, id + '-x-tick-label', {'text-anchor': 'middle'});
  });
  yTicks.forEach(v => {
    path2([frame[0], y(v)], [frame[0] + 13, y(v)], g, '#444', 3, id + '-y-tick');
    label(g, String(v), frame[0] - 12, y(v) + 14, 42, id + '-y-tick-label', {'text-anchor': 'end'});
    if (v > 0) path2([frame[0], y(v - yMinorStep)], [frame[0] + 8, y(v - yMinorStep)], g, '#444', 2.5, id + '-y-minor-tick');
  });
  peaks.forEach(pk => {
    label(g, pk.name, pk.lx, pk.ly, 42, id + '-label-' + pk.name, {'text-anchor': 'middle', style: 'fill:' + pk.text});
  });
}
(function () {
  const g = document.getElementById('e-plot');
  const x = v => 182 + (v + 6) * 83.25, y = v => 638 - v * 11.32;
  const peaks = [
    {name:'P8', xs:eP8X, ys:eP8Y, fill:'#fbd765', lx:782, ly:120, text:'#f8d665'},
    {name:'P7', xs:eP7X, ys:eP7Y, fill:'#f9ad6e', lx:695, ly:567, text:'#f6a25c'},
    {name:'P3', xs:eP3X, ys:eP3Y, fill:'#6b85ee', lx:413, ly:583, text:'#6d86ee'},
    {name:'P4', xs:eP4X, ys:eP4Y, fill:'#8ea7f8', lx:497, ly:560, text:'#93a9f5'},
    {name:'P6', xs:eP6X, ys:eP6Y, fill:'#eaaefa', lx:655, ly:483, text:'#dfa0f5'},
    {name:'P5', xs:eP5X, ys:eP5Y, fill:'#b476f2', lx:552, ly:465, text:'#6a10e0'},
    {name:'P2', xs:eP2X, ys:eP2Y, fill:'#ff9d9d', lx:305, ly:518, text:'#f9a0a0'},
    {name:'P1', xs:eP1X, ys:eP1Y, fill:'#df5a6e', lx:223, ly:502, text:'#d9566a'}
  ];
  const env = eEnvX.map((v, i) => [x(v), y(eEnvY[i])]);
  eP8X.slice(2).forEach((v, i) => env.push([x(v), y(eP8Y[i + 2])]));
  drawDRT('e', g, [182,72,888,638], x, y, eXTicks, eYTicks, 5, peaks, env, 2.48, 690);
})();
(function () {
  const g = document.getElementById('f-plot');
  const x = v => 663 + v * 88.3, y = v => 636 - v * 22.56;
  const peaks = [
    {name:'P8', xs:fP8X, ys:fP8Y, fill:'#fce07e', lx:792, ly:118, text:'#f8d665'},
    {name:'P7', xs:fP7X, ys:fP7Y, fill:'#f8a850', lx:707, ly:545, text:'#f6a25c'},
    {name:'P6', xs:fP6X, ys:fP6Y, fill:'#e7a4f8', lx:633, ly:553, text:'#dfa0f5'},
    {name:'P5', xs:fP5X, ys:fP5Y, fill:'#7010e8', lx:563, ly:572, text:'#6a10e0'},
    {name:'P4', xs:fP4X, ys:fP4Y, fill:'#8ea7f8', lx:488, ly:570, text:'#93a9f5'},
    {name:'P3', xs:fP3X, ys:fP3Y, fill:'#6b85ee', lx:416, ly:561, text:'#6d86ee'},
    {name:'P2', xs:fP2X, ys:fP2Y, fill:'#ff9d9d', lx:334, ly:459, text:'#f9a0a0'},
    {name:'P1', xs:fP1X, ys:fP1Y, fill:'#df5a6e', lx:240, ly:499, text:'#d9566a'}
  ];
  const env = fEnvX.map((v, i) => [x(v), y(fEnvY[i])]);
  fP8X.slice(3).forEach((v, i) => env.push([x(v), y(fP8Y[i + 3])]));
  drawDRT('f', g, [180,72,883,636], x, y, fXTicks, fYTicks, 2.5, peaks, env, 2.5, 686);
})();

/* ---------- (g)(h) heatmaps ---------- */
function inferno(t) {
  t = Math.max(0, Math.min(1, t)) * (infernoStops.length - 1);
  const i = Math.min(Math.floor(t), infernoStops.length - 2);
  return mix(infernoStops[i], infernoStops[i + 1], t - i);
}
function drawHeat(id, g, matrix, vmin, vmax, f, cb, labelX) {
  const x = v => f.x0 + (v - 1.7) * (f.x1 - f.x0) / 1.1;
  const y = u => f.y1 - u * (f.y1 - f.y0) / 0.9;
  const clipId = id + '-heat-clip', blurId = id + '-heat-blur';
  const cp = make('clipPath', {id: clipId}, defs, id + '-clip-path');
  make('rect', {x: f.x0, y: f.y0, width: f.x1 - f.x0, height: f.y1 - f.y0}, cp, id + '-clip-rect');
  const blur = make('filter', {id: blurId, filterUnits: 'userSpaceOnUse', x: f.x0 - 150, y: f.y0 - 150, width: f.x1 - f.x0 + 300, height: f.y1 - f.y0 + 300}, defs, id + '-blur-filter');
  make('feGaussianBlur', {stdDeviation: 17}, blur, id + '-blur');
  const clip = make('g', {'clip-path': 'url(#' + clipId + ')'}, g, id + '-heatmap');
  const cells = make('g', {filter: 'url(#' + blurId + ')'}, clip, id + '-heatmap-cells');
  const dv = 0.05, du = 0.05;
  heatRowPos.forEach((u, r) => {
    heatVoltages.forEach((v, c) => {
      let xa = x(v - dv / 2), xb = x(v + dv / 2), ya = y(u + du / 2), yb = y(u - du / 2);
      if (c === 0) xa -= 80;
      if (c === heatVoltages.length - 1) xb += 80;
      if (r === 0) ya -= 80;
      if (r === heatRowPos.length - 1) yb += 80;
      make('rect', {x: xa, y: ya, width: xb - xa + 1, height: yb - ya + 1, fill: inferno((matrix[r][c] - vmin) / (vmax - vmin))}, cells, id + '-heat-cell');
    });
  });
  make('rect', {x: f.x0, y: f.y0, width: f.x1 - f.x0, height: f.y1 - f.y0, fill: 'none', stroke: '#333', 'stroke-width': 2.5}, g, id + '-plot-frame');
  heatVoltTicks.forEach(v => {
    path2([x(v), f.y1], [x(v), f.y1 + 10], g, '#222', 2.5, id + '-x-tick');
    label(g, v.toFixed(1), x(v), f.y1 + 45, 29, id + '-x-tick-label', {'text-anchor': 'middle'});
  });
  heatRateTickPos.forEach((u, i) => {
    path2([f.x0, y(u)], [f.x0 - 10, y(u)], g, '#222', 2.5, id + '-y-tick');
    label(g, heatRateTickLabels[i], f.x0 - 3, y(u) + 9, 29, id + '-y-tick-label', {'text-anchor': 'end'});
    if (i < 9) path2([f.x0, y(u - .05)], [f.x0 - 6, y(u - .05)], g, '#222', 2, id + '-y-minor-tick');
  });
  const gradId = id + '-cbar-grad';
  const grad = make('linearGradient', {id: gradId, x1: 0, y1: 1, x2: 0, y2: 0}, defs, id + '-colorbar-gradient');
  infernoStops.forEach((c, i) => make('stop', {offset: i / (infernoStops.length - 1), 'stop-color': c}, grad, 'gradient-stop'));
  make('rect', {x: cb[0], y: cb[1], width: cb[2], height: cb[3], fill: 'url(#' + gradId + ')', stroke: '#555', 'stroke-width': 2}, g, id + '-colorbar');
  [0, .5, 1].forEach(t => {
    path2([cb[0] + cb[2], cb[1] + cb[3] * t], [cb[0] + cb[2] + 10, cb[1] + cb[3] * t], g, '#222', 2.5, id + '-colorbar-tick');
  });
}
drawHeat('g', document.getElementById('g-plot'), gCurrent, -1.0, 6.8, {x0:135, x1:850, y0:88, y1:765}, [905,88,25,677]);
drawHeat('h', document.getElementById('h-plot'), hCurrent, -1.9, 9.0, {x0:150, x1:858, y0:95, y1:768}, [915,95,27,673]);

/* ---------- (i) ---------- */
(function () {
  const g = document.getElementById('i-plot');
  const box = {lb:[150,625], lt:[127,138], bb:[465,520], bt:[465,85], rb:[830,605], rt:[852,130], fb:[527,768]};
  drawBox(g, box, {id:'i', wall:'#dfe3fb', floor:'#edf3df', grid:'#aeb4cc', zTicks:iYTicks, zTop:18, zDx:-14, zDy:16, zFont:40,
    xTicks:[], xMax:1, xFont:28, xFracs:[.25,.5,.75], dFracs:[.25,.5,.75]});
  iCategories.forEach((c, i) => {
    label(g, c, 172 + i * 87, 680 + i * 33.5, 44, 'i-category-label-' + c, {'text-anchor': 'middle'});
  });
  const shadeId = 'i-shade';
  const shade = make('linearGradient', {id: shadeId, x1: 0, y1: 0, x2: 1, y2: 0}, defs, 'i-bar-shade');
  make('stop', {offset: 0, 'stop-color': '#000', 'stop-opacity': .14}, shade, 'gradient-stop');
  make('stop', {offset: .4, 'stop-color': '#fff', 'stop-opacity': .12}, shade, 'gradient-stop');
  make('stop', {offset: 1, 'stop-color': '#000', 'stop-opacity': .2}, shade, 'gradient-stop');
  function gradient(id, stops) {
    const gr = make('linearGradient', {id: id, x1: 0, y1: 1, x2: 0, y2: 0}, defs, id);
    stops.forEach(s => make('stop', {offset: s[0], 'stop-color': s[1]}, gr, 'gradient-stop'));
    return 'url(#' + id + ')';
  }
  const coFill = gradient('i-co', [[0,'#ec8a1c'],[.2,'#f4a63c'],[.5,'#fbe28a'],[.8,'#f9e8b4'],[1,'#efdcb8']]);
  const coLow = gradient('i-co-low', [[0,'#b87824'],[.5,'#e6ab62'],[1,'#f0c48c']]);
  const cuFill = gradient('i-cu', [[0,'#a01fe4'],[.35,'#d94cf0'],[.7,'#ef86f5'],[1,'#f5a8f6']]);
  const baseX = (i, s) => 270 + 97 * i + s * 160;
  const baseY = (i, s) => 610 + 32 * i - s * 68;
  const zScale = (i, s) => 26.5 + i - s * 2;
  const yBase = (i, s, v) => baseY(i, s) - v * zScale(i, s);
  function bar(i, s, v, fill, topFill, textColor, name) {
    const w = 60 + (s === 0 ? i * 1.5 : i) - (s ? 2 : 0), ry = 10;
    const x = baseX(i, s), y0 = baseY(i, s), y1 = yBase(i, s, v);
    const d = 'M' + (x - w/2) + ',' + y1 + 'L' + (x - w/2) + ',' + y0 + 'A' + (w/2) + ',' + ry + ' 0 0 0 ' + (x + w/2) + ',' + y0 + 'L' + (x + w/2) + ',' + y1 + 'Z';
    make('path', {d: d, fill: fill}, g, name);
    make('path', {d: d, fill: 'url(#' + shadeId + ')'}, g, name + '-shade');
    make('ellipse', {cx: x, cy: y1, rx: w/2, ry: ry, fill: topFill}, g, name + '-top');
    label(g, v.toFixed(1), x - 4 + (s ? 0 : -5), y1 - 14, 37, name + '-value', {'text-anchor': 'middle', style: 'fill:' + textColor});
  }
  iCuCoNC.forEach((v, i) => bar(i, 1, v, cuFill, '#cf8ae6', '#a05ae0', 'i-bar-cuco-' + iCategories[i]));
  iCoNC.forEach((v, i) => bar(i, 0, v, i === 3 ? coLow : coFill, i === 3 ? '#c9a673' : '#e5cd9a', '#f08a2a', 'i-bar-co-' + iCategories[i]));
})();
</script>
</body>
</html>
